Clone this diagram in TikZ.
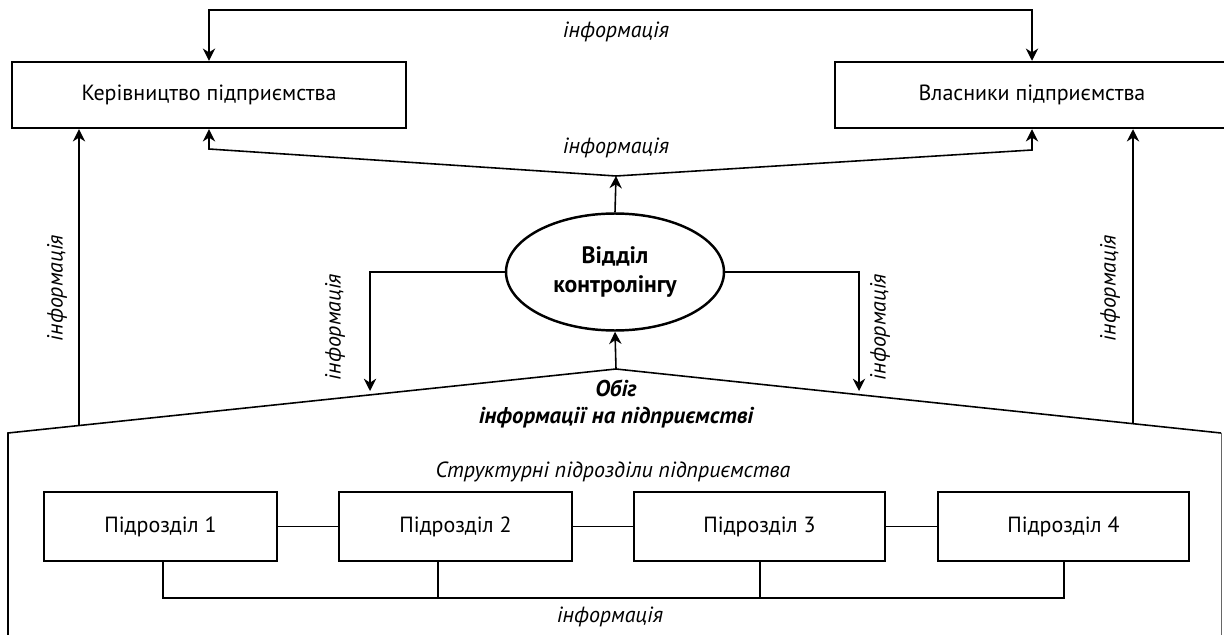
\documentclass[tikz,border=0pt]{standalone}
\usepackage{fontspec}
\setmainfont{PT Sans}
\usetikzlibrary{arrows.meta,shapes.geometric,positioning}
\begin{document}
\begin{tikzpicture}[x=0.02cm, y=-0.02cm, >={Stealth[length=7pt,width=7pt]},
	font=\fontsize{12.5}{15}\selectfont, line join=miter, line width=0.9pt,
	bigbox/.style={draw, line width=1.4pt, minimum width=7.88cm, minimum height=1.32cm, inner sep=0pt},
	subbox/.style={draw, line width=1.4pt, minimum height=1.38cm, inner sep=0pt},
	info/.style={font=\fontsize{12.5}{15}\selectfont\itshape}]
		\path[use as bounding box] (0,0) rectangle (1224,635);
		\def\ybus{598}
		% top boxes
		\node[bigbox] (boss) at (209,95) {Керівництво підприємства};
		\node[bigbox] (owners) at (1032,95) {Власники підприємства};
		\draw[<->] (boss.north) -- ++(0,-51) -| (owners.north);
		\node[info] (t1) at (616,32) {інформація};
		% controlling
		\node[ellipse, draw, line width=1.4pt, minimum width=4.36cm, minimum height=2.34cm, inner sep=0pt, align=center,
			font=\fontsize{13.5}{16.5}\selectfont\bfseries] (ctrl) at (615,272) {Відділ\\контролінгу};
		\coordinate (top) at (616,176);
		\coordinate (tl) at (209,149);
		\coordinate (tr) at (1032,150);
		\draw[->] (top) -- (tl) -- (boss.south);
		\draw[->] (top) -- (tr) -- (owners.south);
		\draw[->] (ctrl.north) -- (top);
		\node[info] (t2) at (616,148) {інформація};
		% circulation area
		\coordinate (bot) at (616,369);
		\coordinate (bl) at (8,433);
		\coordinate (br) at (1221,433);
		\draw (bl |- 0,640) -- (bl) -- (bot) -- (br);
		\draw[line width=0.4pt, black!60] (br) -- (br |- 0,640);
		\draw[->] (bot) -- (ctrl.south);
		\coordinate (il) at (370,391);
		\coordinate (ir) at (859,391);
		\draw[->] (ctrl.west) -| (il);
		\draw[->] (ctrl.east) -| (ir);
		\coordinate (lu) at (79,425);
		\coordinate (ru) at (1133,424);
		\draw[->] (lu) -- (lu |- boss.south);
		\draw[->] (ru) -- (ru |- owners.south);
		\node[info, rotate=90] (t3) at (57,288) {інформація};
		\node[info, rotate=90] (t4) at (335,327) {інформація};
		\node[info, rotate=90] (t5) at (880,327) {інформація};
		\node[info, rotate=90] (t6) at (1110,288) {інформація};
		\node[align=center, font=\fontsize{13}{15}\selectfont\bfseries\itshape] (flow) at (616,404)
			{Обіг\\інформації на підприємстві};
		% departments
		\node[info] (struct) at (613,472) {Структурні підрозділи підприємства};
		\foreach \i/\x/\w in {1/160.5/4.66, 2/455.5/4.66, 3/759.5/5.02, 4/1063.5/5.02}
			\node[subbox, minimum width=\w cm] (d\i) at (\x,526.5) {Підрозділ \i};
		\draw (d1) -- (d2) (d2) -- (d3) (d3) -- (d4);
		\coordinate (b1) at (163,\ybus);
		\coordinate (b2) at (438,\ybus);
		\coordinate (b3) at (760,\ybus);
		\coordinate (b4) at (1064,\ybus);
		\draw (d1.south -| b1) -- (b1) -- (b4) -- (d4.south -| b4);
		\draw (d2.south -| b2) -- (b2);
		\draw (d3.south -| b3) -- (b3);
		\node[info] (t7) at (610,617) {інформація};
	\end{tikzpicture}
\end{document}
